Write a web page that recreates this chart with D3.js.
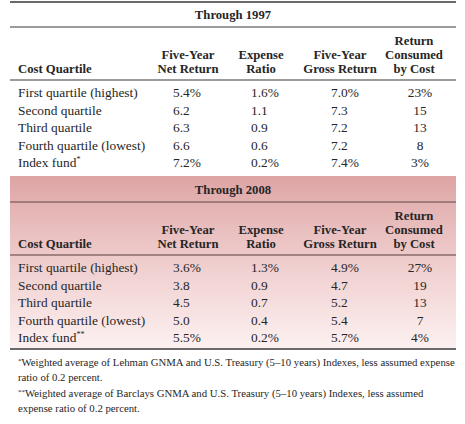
<!DOCTYPE html>
<html><head><meta charset="utf-8">
<script src="https://cdn.jsdelivr.net/npm/d3@7"></script>
<style>
html,body{margin:0;padding:0;background:#fff;}
svg text{font-family:"Liberation Serif","Times New Roman",serif;fill:#262626;}
</style></head>
<body><div id="chart"></div>
<script>
// ---- data ----
const periods = ["Through 1997", "Through 2008"];
const categories = ["First quartile (highest)", "Second quartile", "Third quartile", "Fourth quartile (lowest)", "Index fund"];
const indexMarks = ["*", "**"];
const columnHeaders = [
  ["Cost Quartile"],
  ["Five-Year", "Net Return"],
  ["Expense", "Ratio"],
  ["Five-Year", "Gross Return"],
  ["Return", "Consumed", "by Cost"]
];
const netReturn1997 = [5.4, 6.2, 6.3, 6.6, 7.2];
const expenseRatio1997 = [1.6, 1.1, 0.9, 0.6, 0.2];
const grossReturn1997 = [7.0, 7.3, 7.2, 7.2, 7.4];
const consumed1997 = [23, 15, 13, 8, 3];
const netReturn2008 = [3.6, 3.8, 4.5, 5.0, 5.5];
const expenseRatio2008 = [1.3, 0.9, 0.7, 0.4, 0.2];
const grossReturn2008 = [4.9, 4.7, 5.2, 5.4, 5.7];
const consumed2008 = [27, 19, 13, 7, 4];
const footnotes = [
  ["*", "Weighted average of Lehman GNMA and U.S. Treasury (5–10 years) Indexes, less assumed expense", "ratio of 0.2 percent."],
  ["**", "Weighted average of Barclays GNMA and U.S. Treasury (5–10 years) Indexes, less assumed", "expense ratio of 0.2 percent."]
];

const sections = [
  {title: periods[0], mark: indexMarks[0], cols: [netReturn1997, expenseRatio1997, grossReturn1997, consumed1997]},
  {title: periods[1], mark: indexMarks[1], cols: [netReturn2008, expenseRatio2008, grossReturn2008, consumed2008]}
];

// ---- layout ----
const W = 465, H = 424;
const left = 10, right = 456;
const svg = d3.select("#chart").append("svg").attr("width", W).attr("height", H);

const defs = svg.append("defs");
const grad = defs.append("linearGradient").attr("id", "pink").attr("x1", 0).attr("y1", 0).attr("x2", 0).attr("y2", 1);
grad.append("stop").attr("offset", "0%").attr("stop-color", "#dea4a4");
grad.append("stop").attr("offset", "35%").attr("stop-color", "#ebc2c2");
grad.append("stop").attr("offset", "100%").attr("stop-color", "#fdf1f1");

const headerX = d3.scaleOrdinal().domain(d3.range(5)).range([18, 188, 261, 340, 414]);
const valueX = d3.scaleOrdinal().domain(d3.range(4)).range([173, 251, 331, 420]);
const valueAnchor = ["start", "start", "start", "middle"];
const rowY = d3.scaleLinear().domain([0, 4]).range([97, 167]);
const headerLineY = d3.scaleLinear().domain([0, 2]).range([45, 73]);
const sectionOffset = d3.scaleOrdinal().domain([0, 1]).range([0, 175]);

const fmt = (v, ci, ri) => {
  const pct = (ri === 0 || ri === 4);
  const s = ci === 3 ? d3.format("d")(v) : d3.format(".1f")(v);
  return pct ? s + "%" : s;
};

svg.append("rect").attr("x", left).attr("y", 176).attr("width", right - left).attr("height", 349 - 176)
  .attr("fill", "url(#pink)");

sections.forEach((sec, si) => {
  const g = svg.append("g").attr("transform", `translate(0,${sectionOffset(si)})`);
  if (si === 0) {
    g.append("line").attr("x1", left).attr("x2", right).attr("y1", 2).attr("y2", 2)
      .attr("stroke", "#6a6a6a").attr("stroke-width", 2);
  }
  const lineColor = si === 0 ? "#7a7a7a" : "#8a6a6a";
  [27, 80].forEach(y => g.append("line").attr("x1", left).attr("x2", right).attr("y1", y).attr("y2", y)
    .attr("stroke", lineColor).attr("stroke-width", 1.3));

  g.append("text").attr("x", (left + right) / 2).attr("y", 19).attr("text-anchor", "middle")
    .attr("font-weight", "bold").attr("font-size", 12.7).text(sec.title);

  columnHeaders.forEach((lines, ci) => {
    lines.forEach((ln, li) => {
      const idx = 3 - lines.length + li;
      g.append("text").attr("x", headerX(ci)).attr("y", headerLineY(idx))
        .attr("text-anchor", ci === 0 ? "start" : "middle")
        .attr("font-weight", "bold").attr("font-size", 12.7).text(ln);
    });
  });

  categories.forEach((cat, ri) => {
    const t = g.append("text").attr("x", 18).attr("y", rowY(ri)).attr("font-size", 13.4).text(cat);
    if (ri === 4) t.append("tspan").attr("font-size", 8).attr("dy", -5).text(sec.mark);
    sec.cols.forEach((col, ci) => {
      g.append("text").attr("x", valueX(ci)).attr("y", rowY(ri)).attr("text-anchor", valueAnchor[ci])
        .attr("font-size", 13.4).text(fmt(col[ri], ci, ri));
    });
  });
});

svg.append("line").attr("x1", left).attr("x2", right).attr("y1", 349).attr("y2", 349)
  .attr("stroke", "#6a6a6a").attr("stroke-width", 2);

const fnY = d3.scaleLinear().domain([0, 3]).range([366, 412]);
const fnTexts = [];
footnotes.forEach((fn, fi) => {
  const t = svg.append("text").attr("x", 18).attr("y", fnY(fi * 2)).attr("font-size", 11);
  t.append("tspan").attr("font-size", 7).attr("dy", -3).text(fn[0]);
  t.append("tspan").attr("dy", 3).text(fn[1]);
  const t2 = svg.append("text").attr("x", 18).attr("y", fnY(fi * 2 + 1)).attr("font-size", 11).text(fn[2]);
  fnTexts.push(t, t2);
});
// fit the longest footnote line within the table width
const maxLen = d3.max(fnTexts, t => t.node().getComputedTextLength());
const fs = Math.min(11.4, 11 * (right - 1 - 18) / maxLen);
fnTexts.forEach(t => t.attr("font-size", fs));
</script>
</body></html>
